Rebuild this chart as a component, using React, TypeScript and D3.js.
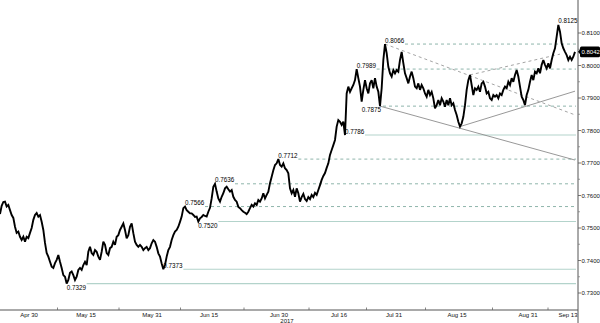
import React from 'react';
import * as d3 from 'd3';

// Price series (one reading per step along the time axis)
const prices: number[] = [
  0.7543, 0.7568, 0.7580, 0.7581, 0.7566, 0.7571, 0.7555, 0.7540, 0.7531, 0.7504,
  0.7485, 0.7489, 0.7473, 0.7463, 0.7473, 0.7458, 0.7473, 0.7469, 0.7485, 0.7500,
  0.7525, 0.7540, 0.7546, 0.7535, 0.7540, 0.7519, 0.7494, 0.7454, 0.7423, 0.7412,
  0.7396, 0.7381, 0.7377, 0.7392, 0.7402, 0.7417, 0.7396, 0.7377, 0.7355, 0.7350,
  0.7329, 0.7340, 0.7362, 0.7366, 0.7355, 0.7340, 0.7350, 0.7371, 0.7377, 0.7371,
  0.7386, 0.7396, 0.7386, 0.7427, 0.7442, 0.7423, 0.7417, 0.7432, 0.7427, 0.7412,
  0.7402, 0.7427, 0.7458, 0.7448, 0.7423, 0.7417, 0.7438, 0.7442, 0.7458, 0.7448,
  0.7473, 0.7478, 0.7494, 0.7504, 0.7514, 0.7494, 0.7468, 0.7478, 0.7504, 0.7514,
  0.7484, 0.7458, 0.7448, 0.7442, 0.7448, 0.7442, 0.7432, 0.7438, 0.7442, 0.7432,
  0.7438, 0.7453, 0.7463, 0.7458, 0.7442, 0.7422, 0.7412, 0.7391, 0.7373, 0.7386,
  0.7412, 0.7432, 0.7442, 0.7463, 0.7478, 0.7489, 0.7494, 0.7504, 0.7519, 0.7535,
  0.7561, 0.7566, 0.7555, 0.7550, 0.7545, 0.7545, 0.7540, 0.7534, 0.7535, 0.7520,
  0.7530, 0.7534, 0.7540, 0.7537, 0.7535, 0.7550, 0.7562, 0.7591, 0.7627, 0.7636,
  0.7612, 0.7591, 0.7581, 0.7596, 0.7607, 0.7622, 0.7627, 0.7619, 0.7612, 0.7617,
  0.7596, 0.7586, 0.7581, 0.7565, 0.7561, 0.7555, 0.7550, 0.7547, 0.7543, 0.7550,
  0.7561, 0.7571, 0.7566, 0.7576, 0.7571, 0.7586, 0.7581, 0.7591, 0.7607, 0.7591,
  0.7602, 0.7612, 0.7638, 0.7658, 0.7678, 0.7694, 0.7699, 0.7712, 0.7694, 0.7689,
  0.7699, 0.7684, 0.7678, 0.7668, 0.7622, 0.7607, 0.7617, 0.7596, 0.7622, 0.7607,
  0.7581, 0.7595, 0.7605, 0.7589, 0.7583, 0.7595, 0.7589, 0.7602, 0.7595, 0.7608,
  0.7602, 0.7617, 0.7632, 0.7648, 0.7660, 0.7669, 0.7685, 0.7699, 0.7725, 0.7740,
  0.7755, 0.7771, 0.7812, 0.7832, 0.7827, 0.7817, 0.7827, 0.7786, 0.7914, 0.7935,
  0.7919, 0.7930, 0.7940, 0.7955, 0.7989, 0.7961, 0.7935, 0.7889, 0.7925, 0.7955,
  0.7930, 0.7914, 0.7945, 0.7955, 0.7930, 0.7961, 0.7935, 0.7919, 0.7875, 0.7930,
  0.8017, 0.8066, 0.8038, 0.7996, 0.7976, 0.7966, 0.7986, 0.7976, 0.7986, 0.7981,
  0.8017, 0.8042, 0.8007, 0.7976, 0.7961, 0.7945, 0.7966, 0.7981, 0.7961, 0.7935,
  0.7930, 0.7945, 0.7925, 0.7940, 0.7930, 0.7914, 0.7904, 0.7925, 0.7909, 0.7919,
  0.7899, 0.7868, 0.7878, 0.7894, 0.7878, 0.7899, 0.7889, 0.7873, 0.7894, 0.7878,
  0.7899, 0.7878, 0.7884, 0.7863, 0.7848, 0.7827, 0.7812, 0.7822, 0.7842, 0.7878,
  0.7925, 0.7955, 0.7971, 0.7940, 0.7909, 0.7930, 0.7925, 0.7935, 0.7919, 0.7945,
  0.7950, 0.7935, 0.7914, 0.7919, 0.7899, 0.7894, 0.7909, 0.7904, 0.7909, 0.7899,
  0.7914, 0.7909, 0.7925, 0.7935, 0.7930, 0.7950, 0.7940, 0.7961, 0.7950, 0.7971,
  0.7986, 0.7966, 0.7935, 0.7904, 0.7894, 0.7878, 0.7909, 0.7925, 0.7950, 0.7971,
  0.7955, 0.7981, 0.7976, 0.7991, 0.7976, 0.8002, 0.8017, 0.8002, 0.7991, 0.8007,
  0.7991, 0.8017, 0.8038, 0.8053, 0.8089, 0.8125, 0.8104, 0.8068, 0.8053, 0.8042,
  0.8032, 0.8017, 0.8027, 0.8017, 0.8027, 0.8042,
];

// X-axis labels and their positions (in series steps)
const dateLabels = ['Apr 30', 'May 15', 'May 31', 'Jun 15', 'Jun 30', 'Jul 16', 'Jul 31', 'Aug 15', 'Aug 31', 'Sep 13'];
const dateLabelPos = [17.4, 51.6, 91.2, 125.4, 167.4, 203.4, 236.4, 274.2, 316.8, 340.8];
const yearLabel = '2017';
const yearLabelPos = 172.2;

// Y-axis ticks
const yTicks = [0.73, 0.74, 0.75, 0.76, 0.77, 0.78, 0.79, 0.80, 0.81];
const yMinorTicks = [0.735, 0.745, 0.755, 0.765, 0.775, 0.785, 0.795, 0.805];
const lastPrice = 0.8042;

// Annotated highs / lows
const levelValues = [0.7329, 0.7373, 0.7566, 0.7520, 0.7636, 0.7712, 0.7786, 0.7989, 0.7875, 0.8066, 0.8125];
const levelIndex = [40, 98, 111, 119, 129, 167, 207, 214, 228, 231, 335];
const levelLine = ['solid', 'solid', 'dashed', 'solid', 'dashed', 'dashed', 'solid', 'dashed', 'dashed', 'dashed', 'none'];
const levelSide = ['below', 'above', 'above', 'below', 'above', 'above', 'above', 'above', 'below', 'above', 'above'];
const levelAlign = ['start', 'start', 'start', 'start', 'start', 'start', 'start', 'start', 'end', 'start', 'start'];

// Trend lines
const trendFromIdx = [228, 276, 231, 282];
const trendFromVal = [0.7875, 0.7812, 0.8066, 0.7971];
const trendToIdx = [345, 345, 345, 336];
const trendToVal = [0.7709, 0.7921, 0.7848, 0.8035];
const trendKind = ['solid', 'solid', 'dashed', 'dashed'];

const W = 600;
const H = 323;
const FONT = 'Liberation Sans, Arial, sans-serif';

export default function App() {
  const x = d3.scaleLinear().domain([0, prices.length - 1]).range([0, 575]);
  const y = d3.scaleLinear().domain([0.73, 0.81]).range([293, 33]);
  const axisX = 578;
  const axisY = 310;
  const lineEnd = 576;
  const labelW = 19;
  const fmt = d3.format('.4f');

  const line = d3
    .line<number>()
    .x((_, i) => x(i))
    .y((d) => y(d));

  const tickMids = d3.pairs(dateLabelPos).map(([a, b]) => (a + b) / 2);

  return (
    <svg
      width={W}
      height={H}
      style={{ position: 'absolute', left: 0, top: 0, background: '#fff' }}
      fontFamily={FONT}
    >
      <rect x={0} y={0} width={W} height={H} fill="#fff" />

      {/* horizontal levels */}
      {levelValues.map((v, k) => {
        if (levelLine[k] === 'none') return null;
        const x0 = levelAlign[k] === 'end' ? x(levelIndex[k]) + 3 : x(levelIndex[k]) + labelW + 1;
        return (
          <line
            key={'lv' + k}
            x1={x0}
            x2={lineEnd}
            y1={y(v)}
            y2={y(v)}
            stroke={levelLine[k] === 'solid' ? '#b3d3cb' : '#8fb5ac'}
            strokeWidth={levelLine[k] === 'solid' ? 1.1 : 1}
            strokeDasharray={levelLine[k] === 'dashed' ? '3,3' : undefined}
          />
        );
      })}

      {/* trend lines */}
      {trendFromIdx.map((fi, k) => (
        <line
          key={'tr' + k}
          x1={x(fi)}
          y1={y(trendFromVal[k])}
          x2={x(trendToIdx[k])}
          y2={y(trendToVal[k])}
          stroke={trendKind[k] === 'solid' ? '#8c8c8c' : '#9a9a9a'}
          strokeWidth={0.9}
          strokeDasharray={trendKind[k] === 'dashed' ? '3,3' : undefined}
        />
      ))}

      {/* price line */}
      <path d={line(prices) || ''} fill="none" stroke="#000" strokeWidth={1.9} strokeLinejoin="miter" strokeMiterlimit={3} />

      {/* level labels */}
      {levelValues.map((v, k) => {
        const side = levelSide[k];
        const yy = side === 'above' ? y(v) - 1.5 : y(v) + 6.3;
        const xx = levelAlign[k] === 'end' ? x(levelIndex[k]) + 1 : x(levelIndex[k]);
        return (
          <text
            key={'lt' + k}
            x={xx}
            y={yy}
            fontSize={6.3}
            fill="#000"
            textAnchor={levelAlign[k] === 'end' ? 'end' : 'start'}
          >
            {fmt(v)}
          </text>
        );
      })}

      {/* bottom axis */}
      <line x1={0} x2={axisX} y1={axisY} y2={axisY} stroke="#555" strokeWidth={1} />
      {tickMids.map((t, k) => (
        <line key={'bt' + k} x1={x(t)} x2={x(t)} y1={axisY - 2.5} y2={axisY} stroke="#666" strokeWidth={0.8} />
      ))}
      {dateLabels.map((lab, k) => (
        <text key={'dl' + k} x={x(dateLabelPos[k])} y={316.5} fontSize={6} textAnchor="middle" fill="#111">
          {lab}
        </text>
      ))}
      <text x={x(yearLabelPos)} y={322.5} fontSize={6} textAnchor="middle" fill="#111">
        {yearLabel}
      </text>

      {/* right axis */}
      <line x1={axisX} x2={axisX} y1={0} y2={H} stroke="#555" strokeWidth={1} />
      {yMinorTicks.map((t) => (
        <line key={'mt' + t} x1={axisX} x2={axisX + 2} y1={y(t)} y2={y(t)} stroke="#777" strokeWidth={0.7} />
      ))}
      {yTicks.map((t) => (
        <g key={'yt' + t}>
          <line x1={axisX} x2={axisX + 3} y1={y(t)} y2={y(t)} stroke="#555" strokeWidth={0.8} />
          <text x={axisX + 3.5} y={y(t)} dy="0.35em" fontSize={6} fill="#111">
            {fmt(t)}
          </text>
        </g>
      ))}

      {/* last price tag */}
      <polygon
        points={`${axisX},${y(lastPrice)} ${axisX + 2.5},${y(lastPrice) - 3} ${axisX + 2.5},${y(lastPrice) + 3}`}
        fill="#000"
      />
      <rect x={axisX + 2} y={y(lastPrice) - 5.3} width={W - axisX - 2} height={10.6} rx={1.5} fill="#000" />
      <text x={axisX + 3.5} y={y(lastPrice)} dy="0.35em" fontSize={6} fill="#fff">
        {fmt(lastPrice)}
      </text>
    </svg>
  );
}
